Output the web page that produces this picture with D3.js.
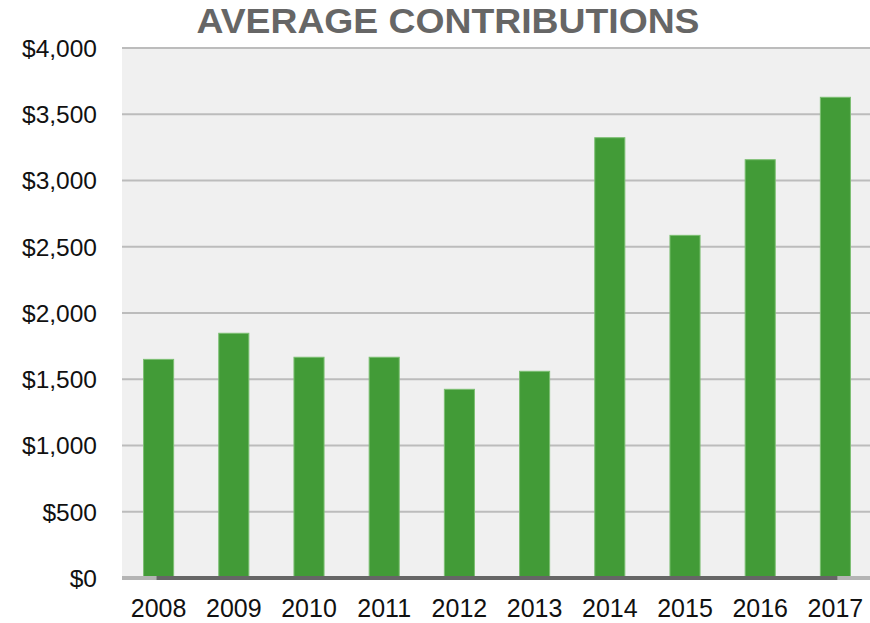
<html>
  <head>
    <meta charset="utf-8">
    <title>Average Contributions</title>
    <style>
      body { margin: 0; background: #fff; }
      text { font-family: "Liberation Sans", Arial, sans-serif; }
    </style>
  </head>
  <body>
    <script src="https://cdn.jsdelivr.net/npm/d3@7"></script>
    <script>
      var years = ["2008", "2009", "2010", "2011", "2012", "2013", "2014", "2015", "2016", "2017"];
      var contributions = [1650, 1847, 1666, 1666, 1424, 1560, 3323, 2586, 3157, 3628];
      var yTicks = [0, 500, 1000, 1500, 2000, 2500, 3000, 3500, 4000];

      var width = 870, height = 623;
      var plotLeft = 122, plotRight = 870, plotTop = 48, plotBottom = 578;

      var svg = d3.select("body").append("svg")
        .attr("width", width)
        .attr("height", height);

      var x = d3.scaleBand()
        .domain(years)
        .range([121, 873])
        .paddingInner(0.6)
        .paddingOuter(0.3);

      var y = d3.scaleLinear()
        .domain([0, 4000])
        .range([plotBottom, plotTop]);

      // plot background
      svg.append("rect")
        .attr("x", plotLeft).attr("y", plotTop)
        .attr("width", plotRight - plotLeft).attr("height", plotBottom - plotTop)
        .attr("fill", "#f0f0f0");

      // grid lines
      svg.append("g")
        .selectAll("line")
        .data(yTicks.slice(1))
        .enter().append("line")
        .attr("x1", plotLeft).attr("x2", plotRight)
        .attr("y1", function(d){ return y(d); })
        .attr("y2", function(d){ return y(d); })
        .attr("stroke", "#bcbcbc")
        .attr("stroke-width", 2);

      // y axis labels
      var fmt = d3.format(",");
      svg.append("g")
        .selectAll("text")
        .data(yTicks)
        .enter().append("text")
        .attr("x", 97)
        .attr("y", function(d){ return y(d); })
        .attr("dy", "0.36em")
        .attr("text-anchor", "end")
        .attr("font-size", 24.5)
        .attr("fill", "#111")
        .text(function(d){ return "$" + fmt(d); });

      // bars
      svg.append("g")
        .selectAll("rect")
        .data(contributions)
        .enter().append("rect")
        .attr("x", function(d, i){ return x(years[i]); })
        .attr("y", function(d){ return y(d); })
        .attr("width", x.bandwidth())
        .attr("height", function(d){ return y(0) - y(d); })
        .attr("fill", "#429b37")
        .attr("stroke", "#7cbf72")
        .attr("stroke-width", 1);

      // baseline
      svg.append("line")
        .attr("x1", plotLeft).attr("x2", plotRight)
        .attr("y1", plotBottom).attr("y2", plotBottom)
        .attr("stroke", "#b4b4b4")
        .attr("stroke-width", 4);
      svg.append("line")
        .attr("x1", x(years[0]) + 13).attr("x2", x(years[years.length - 1]) + 17)
        .attr("y1", plotBottom).attr("y2", plotBottom)
        .attr("stroke", "#666666")
        .attr("stroke-width", 4);

      // x labels
      svg.append("g")
        .selectAll("text")
        .data(years)
        .enter().append("text")
        .attr("x", function(d){ return x(d) + x.bandwidth() / 2; })
        .attr("y", 617)
        .attr("text-anchor", "middle")
        .attr("font-size", 25)
        .attr("fill", "#111")
        .text(function(d){ return d; });

      // title
      svg.append("text")
        .attr("x", 448)
        .attr("y", 33)
        .attr("text-anchor", "middle")
        .attr("font-size", 35)
        .attr("font-weight", "bold")
        .attr("fill", "#666666")
        .attr("textLength", 503)
        .attr("lengthAdjust", "spacingAndGlyphs")
        .text("AVERAGE CONTRIBUTIONS");
    </script>
  </body>
</html>
